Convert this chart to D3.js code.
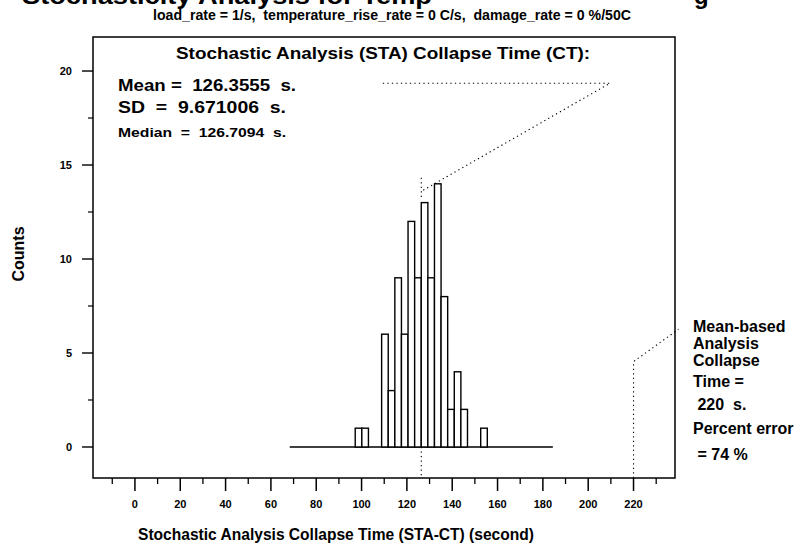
<!DOCTYPE html>
<html>
<head>
<meta charset="utf-8">
<script src="https://cdn.jsdelivr.net/npm/d3@7"></script>
<style>
  body { margin: 0; background: #fff; }
  svg text { font-family: "Liberation Sans", Arial, sans-serif; font-weight: bold; fill: #000; }
</style>
</head>
<body>
<div id="chart"></div>
<script>
//*** données ***************************************************************/
// comptes par classe (20 classes entre min et max)
const counts = [1, 1, 0, 0, 6, 3, 9, 6, 12, 9, 13, 9, 14, 8, 2, 4, 2, 0, 0, 1];
const binRange = [97.2, 155.48];
const baseRange = [68.3, 184.4]; // moyenne +/- 6 SD
const xTicks = [0, 20, 40, 60, 80, 100, 120, 140, 160, 180, 200, 220];
const xMinor = [-10, 10, 30, 50, 70, 90, 110, 130, 150, 170, 190, 210, 230];
const yTicks = [0, 5, 10, 15, 20];
const yMinor = [2.5, 7.5, 12.5, 17.5];
const meanCT = 126.3555;
const meanBased = 220;
// repères pointillés (valeurs en secondes / comptes)
const meanLeader = [[109.4, 19.35], [209.6, 19.35], [meanCT, 13.6]];
const meanTick = [[meanCT, 13.3], [meanCT, 14.4]];
const refLeader = [[meanBased, -1.65], [meanBased, 4.54], [239.8, 6.26]];
const statLines = ["Mean =  126.3555  s.", "SD  =  9.671006  s.", "Median  =  126.7094  s."];
const rightNote = ["Mean-based", "Analysis", "Collapse", "Time =", " 220  s.", "Percent error", " = 74 %"];

//*** svg ******************************************************************/
const W = 809, H = 550;
const svg = d3.select("#chart").append("svg").attr("width", W).attr("height", H);

const x = d3.scaleLinear().domain([-18.5, 238.3]).range([93, 675]);
const y = d3.scaleLinear().domain([-1.65, 21.81]).range([478, 37]);

// titre (coupé en haut dans l'original)
svg.append("text").attr("x", 22).attr("y", 4).attr("font-size", 24)
  .attr("textLength", 410).attr("lengthAdjust", "spacingAndGlyphs")
  .text("Stochasticity Analysis for Temp");
svg.append("text").attr("x", 694).attr("y", 4).attr("font-size", 24).text("g");

svg.append("text").attr("x", 392).attr("y", 20).attr("font-size", 14)
  .attr("text-anchor", "middle")
  .attr("textLength", 478).attr("lengthAdjust", "spacingAndGlyphs")
  .style("white-space", "pre")
  .text("load_rate = 1/s,  temperature_rise_rate = 0 C/s,  damage_rate = 0 %/50C");

// cadre
svg.append("rect").attr("x", 93).attr("y", 37).attr("width", 582).attr("height", 441)
  .attr("fill", "none").attr("stroke", "#000").attr("stroke-width", 1.5);

// axes
const gx = svg.append("g").attr("transform", "translate(0,478)");
gx.selectAll("line.maj").data(xTicks).join("line")
  .attr("x1", d => x(d)).attr("x2", d => x(d)).attr("y1", 0).attr("y2", 13)
  .attr("stroke", "#000").attr("stroke-width", 1.5);
gx.selectAll("line.min").data(xMinor).join("line")
  .attr("x1", d => x(d)).attr("x2", d => x(d)).attr("y1", 0).attr("y2", 6)
  .attr("stroke", "#000").attr("stroke-width", 1.3);
gx.selectAll("text").data(xTicks).join("text")
  .attr("x", d => x(d)).attr("y", 30).attr("font-size", 11)
  .attr("text-anchor", "middle").text(d => d);

const gy = svg.append("g").attr("transform", "translate(93,0)");
gy.selectAll("line.maj").data(yTicks).join("line")
  .attr("y1", d => y(d)).attr("y2", d => y(d)).attr("x1", 0).attr("x2", -11)
  .attr("stroke", "#000").attr("stroke-width", 1.4);
gy.selectAll("line.min").data(yMinor).join("line")
  .attr("y1", d => y(d)).attr("y2", d => y(d)).attr("x1", 0).attr("x2", -5)
  .attr("stroke", "#000").attr("stroke-width", 1.2);
gy.selectAll("text").data(yTicks).join("text")
  .attr("x", -21).attr("y", d => y(d) + 4).attr("font-size", 11)
  .attr("text-anchor", "end").text(d => d);

svg.append("text").attr("transform", "translate(24,254) rotate(-90)")
  .attr("font-size", 16).attr("text-anchor", "middle").text("Counts");

svg.append("text").attr("x", 336).attr("y", 540).attr("font-size", 16)
  .attr("text-anchor", "middle")
  .attr("textLength", 396).attr("lengthAdjust", "spacingAndGlyphs")
  .text("Stochastic Analysis Collapse Time (STA-CT) (second)");

// histogramme
const bw = (binRange[1] - binRange[0]) / counts.length;
const bins = counts.map((c, i) => ({ x0: binRange[0] + i * bw, x1: binRange[0] + (i + 1) * bw, c: c }))
  .filter(d => d.c > 0);

svg.append("line")
  .attr("x1", x(baseRange[0])).attr("x2", x(baseRange[1]))
  .attr("y1", y(0)).attr("y2", y(0))
  .attr("stroke", "#000").attr("stroke-width", 1.5);

svg.selectAll("rect.bar").data(bins).join("rect")
  .attr("class", "bar")
  .attr("x", d => x(d.x0)).attr("width", d => x(d.x1) - x(d.x0))
  .attr("y", d => y(d.c)).attr("height", d => y(0) - y(d.c))
  .attr("fill", "#fff").attr("stroke", "#000").attr("stroke-width", 1.4);

// pointillés
const line = d3.line().x(d => x(d[0])).y(d => y(d[1]));
const dotted = (pts) => svg.append("path").attr("d", line(pts))
  .attr("fill", "none").attr("stroke", "#000").attr("stroke-width", 1.1)
  .attr("stroke-dasharray", "1.3,3.2");
dotted(meanLeader);
dotted(meanTick);
dotted([[meanCT, 0], [meanCT, -1.65]]);
dotted(refLeader);

// textes
svg.append("text").attr("x", 383).attr("y", 59).attr("font-size", 16.5)
  .attr("text-anchor", "middle")
  .attr("textLength", 414).attr("lengthAdjust", "spacingAndGlyphs")
  .text("Stochastic Analysis (STA) Collapse Time (CT):");

const statSize = [17, 17, 13];
const statY = [91, 113, 137];
const statLen = [178, 168, 168];
statLines.forEach((t, i) => {
  svg.append("text").attr("x", 118).attr("y", statY[i]).attr("font-size", statSize[i])
    .attr("textLength", statLen[i]).attr("lengthAdjust", "spacingAndGlyphs")
    .style("white-space", "pre").text(t);
});

const noteY = [332, 349, 366, 387, 410, 434, 460];
rightNote.forEach((t, i) => {
  svg.append("text").attr("x", 693).attr("y", noteY[i]).attr("font-size", 16)
    .style("white-space", "pre").text(t);
});
</script>
</body>
</html>
